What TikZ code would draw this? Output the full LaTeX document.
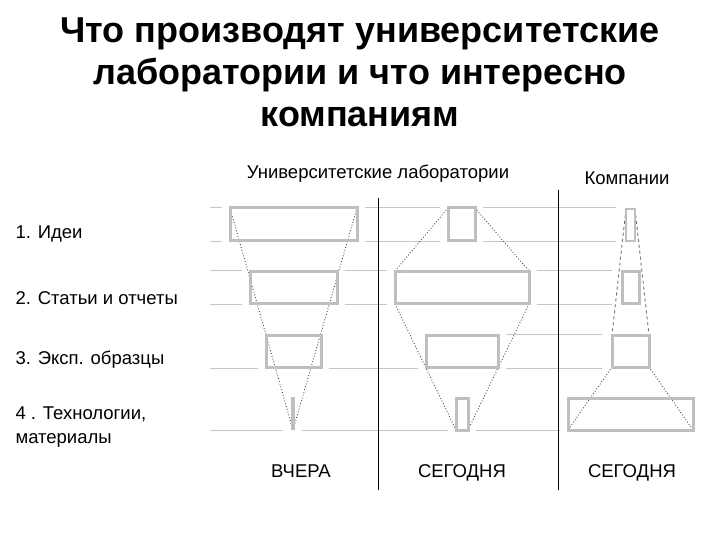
\documentclass[tikz,border=0pt]{standalone}
\usepackage{fontspec}
\setmainfont{Liberation Sans}
\begin{document}
\begin{tikzpicture}[x=1pt,y=-1pt,
  hl/.style={draw=gray!45,line width=0.8pt},
  bx/.style={draw=gray!50,line width=3pt},
  gap/.style={fill=white,draw=none},
  dot/.style={draw=black!70,dotted,line width=0.9pt},
  dsh/.style={draw=black!55,dashed,line width=0.9pt},
  fs/.style={font=\fontsize{18.5}{24}\selectfont},
  lbl/.style={fs,anchor=base west,align=left},
  ttl/.style={font=\fontsize{36}{42}\selectfont\bfseries,align=center}]
\useasboundingbox (0,0) rectangle (720,540);
\node[ttl] (t) at (360,72) {Что производят университетские\\лаборатории и что интересно\\компаниям};
% horizontal lines
\foreach \y in {207,241,270,304,368,430} \draw[hl] (210,\y) -- (620,\y);
\draw[hl] (503,334) -- (607,334);
% gaps
\foreach \a/\b/\c/\d in {222/200/365/248, 242/263/345/311, 258/327/329/375, 283/390/302/437,
 440/200/483/248, 387/263/537/311, 418/327/506/375, 448/390/476/437,
 616/200/645/248, 612/263/649/311, 602/327/659/375, 560/390/700/437}
  \fill[gap] (\a,\b) rectangle (\c,\d);
% verticals
\draw[black,line width=1pt] (378,198) -- (378,490);
\draw[black,line width=1pt] (558,190) -- (558,490);
% dotted / dashed
\coordinate (l1) at (230,208); \coordinate (r1) at (357,208); \coordinate (lp) at (293,430);
\draw[dot] (l1) -- (lp); \draw[dot] (r1) -- (lp);
\coordinate (m1) at (448,208); \coordinate (m2) at (475,208);
\coordinate (m3) at (395,271); \coordinate (m4) at (529,271);
\coordinate (m5) at (395,304); \coordinate (m6) at (529,304);
\coordinate (m7) at (456,430); \coordinate (m8) at (468,430);
\draw[dot] (m1) -- (m3); \draw[dot] (m2) -- (m4);
\draw[dot] (m5) -- (m7); \draw[dot] (m6) -- (m8);
\coordinate (c1) at (626,209); \coordinate (c2) at (635,209);
\coordinate (c3) at (612,335); \coordinate (c4) at (649,335);
\coordinate (c5) at (612,367); \coordinate (c6) at (649,367);
\coordinate (c7) at (568,430); \coordinate (c8) at (693,430);
\draw[dsh] (c1) -- (c3); \draw[dsh] (c2) -- (c4);
\draw[dot] (c5) -- (c7); \draw[dot] (c6) -- (c8);
% boxes
\draw[bx] (230,208) rectangle (357,240);
\draw[bx] (250,271) rectangle (337,303);
\draw[bx] (266,335) rectangle (321,367);
\fill[gray!50] (291,397) rectangle (295,430);
\draw[bx] (448,208) rectangle (475,240);
\draw[bx] (395,271) rectangle (529,303);
\draw[bx] (426,335) rectangle (498,367);
\draw[bx] (456,398) rectangle (468,430);
\draw[bx,line width=2.5pt] (626,209) rectangle (635,241);
\draw[bx] (622,271) rectangle (639,303);
\draw[bx] (612,335) rectangle (649,367);
\draw[bx] (568,398) rectangle (693,430);
% labels
\node[fs,anchor=base] (u) at (378,179) {Университетские лаборатории};
\node[fs,anchor=base] (k) at (627,185) {Компании};
\node[lbl] (r1l) at (12,239) {1. Идеи};
\node[lbl] (r2l) at (12,304) {2. Статьи и отчеты};
\node[lbl] (r3l) at (12,364) {3. Эксп. образцы};
\node[lbl] (r4l) at (12,443) {4 . Технологии,\\материалы};
\node[fs,anchor=base] (b1) at (301,477) {ВЧЕРА};
\node[fs,anchor=base] (b2) at (462,477) {СЕГОДНЯ};
\node[fs,anchor=base] (b3) at (632,477) {СЕГОДНЯ};
\end{tikzpicture}
\end{document}
